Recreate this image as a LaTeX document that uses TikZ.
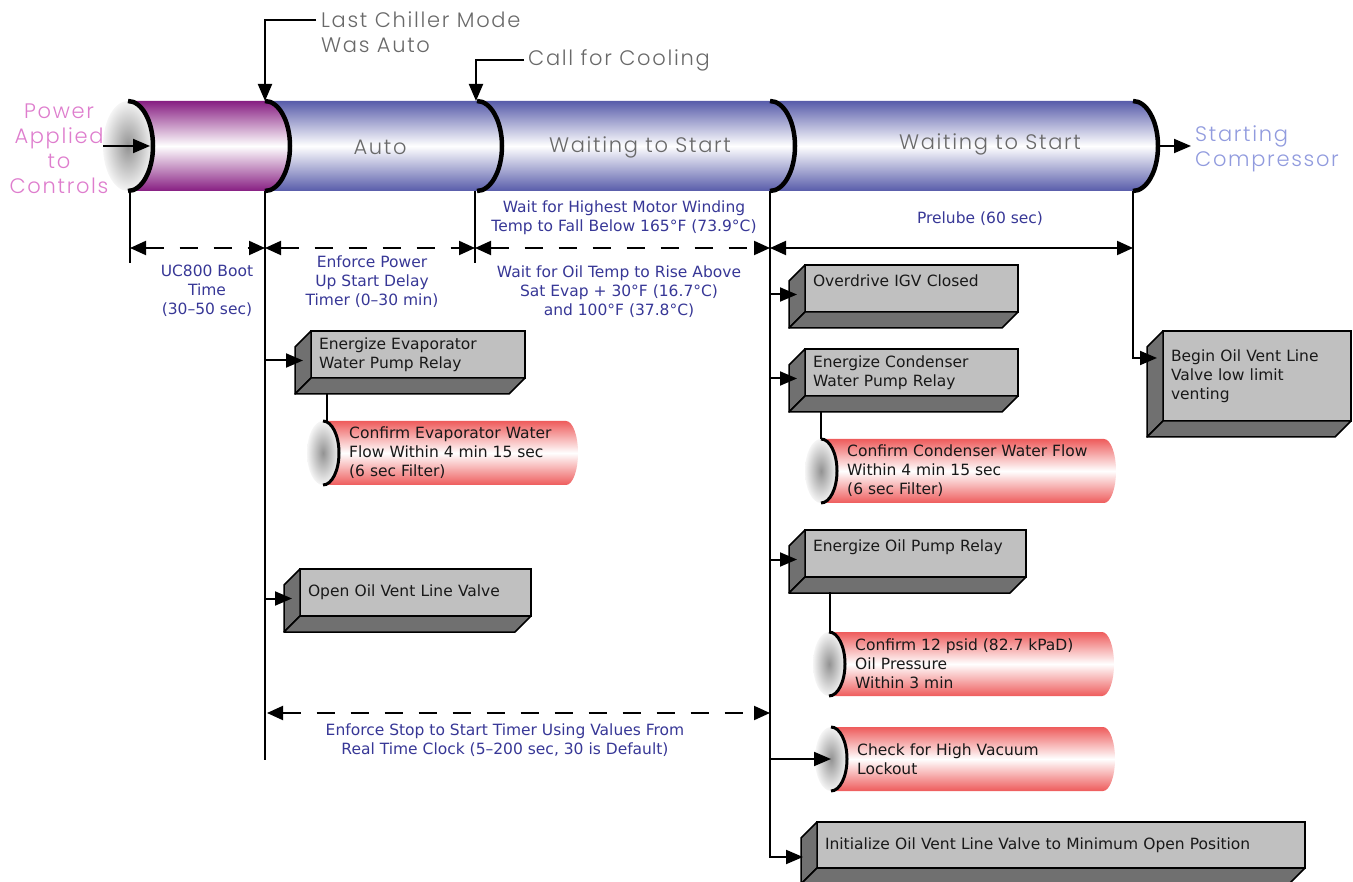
\documentclass[tikz,border=0pt]{standalone}
\usepackage{fontspec}
\setmainfont{DejaVu Sans}
\newfontfamily\thinfont{Poppins Light}[LetterSpace=8]
\usetikzlibrary{arrows.meta,positioning,calc}

\definecolor{plum}{RGB}{135,30,130}
\definecolor{navyfill}{RGB}{88,92,170}
\definecolor{redfill}{RGB}{238,92,92}
\definecolor{frontgray}{RGB}{192,192,192}
\definecolor{sidegray}{RGB}{112,112,112}
\definecolor{labelblue}{RGB}{55,55,150}
\definecolor{thingray}{RGB}{105,105,105}
\definecolor{pinktext}{RGB}{222,125,205}
\definecolor{paleblue}{RGB}{145,155,222}

\newcommand\boxfont{\fontsize{15.5}{19}\selectfont}
\newcommand\phasefont{\thinfont\fontsize{21}{25}\selectfont}

\tikzset{
  arr/.style={line width=2pt, -{Triangle[length=17pt,width=14pt]}},
  dimarr/.style={line width=2pt, {Triangle[length=16pt,width=14pt]}-{Triangle[length=16pt,width=14pt]}},
  dimdash/.style={dimarr, dash pattern=on 18pt off 16pt},
  stepbox/.style={draw, line width=1.5pt, fill=frontgray, anchor=north west, outer sep=0pt,
    inner xsep=8pt, inner ysep=3pt, align=left, font=\boxfont, text=black!90},
  timing/.style={text=labelblue, align=center, inner sep=0pt, font=\boxfont},
  phase/.style={text=thingray, inner sep=0pt, font=\phasefont},
}

% side and bottom faces of an extruded box
\newcommand\boxdepth[1]{%
  \filldraw[fill=sidegray, line width=1.5pt, line join=round]
    (#1.north west) -- ([shift={(-16,16)}]#1.north west)
    -- ([shift={(-16,16)}]#1.south west) -- (#1.south west) -- cycle;
  \filldraw[fill=sidegray, line width=1.5pt, line join=round]
    (#1.south west) -- ([shift={(-16,16)}]#1.south west)
    -- ([shift={(-16,16)}]#1.south east) -- (#1.south east) -- cycle;
  \coordinate (#1-in) at ([shift={(-8,6)}]#1.west);
}

% red cylinder on its side: name, end x, top y, right x, text
\newcommand\redcyl[5]{%
  \shade[top color=redfill, bottom color=redfill, middle color=white]
    (#2,#3) -- (#4,#3) arc[start angle=-90, end angle=90, x radius=12, y radius=32]
    -- (#2,#3+64) -- cycle;
  \shade[inner color=gray!85, outer color=gray!8] (#2,#3+32) ellipse[x radius=16, y radius=32];
  \draw[line width=3pt] (#2,#3) arc[start angle=-90, end angle=90, x radius=16, y radius=32];
  \coordinate (#1-top) at (#2,#3);
  \coordinate (#1-in) at (#2,#3+32);
  \node[anchor=west, align=left, inner sep=0pt, font=\boxfont, text=black!90] (#1) at (#2+26,#3+32) {#5};
}

\begin{document}
\begin{tikzpicture}[x=1pt, y=-1pt]
\useasboundingbox (0,0) rectangle (1353,882);

% main cylinder, right to left so each bulge lies over the next body
\foreach \xa/\xb/\col in {770/1133/navyfill,477/770/navyfill,265/477/navyfill,128/265/plum}{
  \shade[top color=\col, bottom color=\col, middle color=white]
    (\xa,101) -- (\xb,101) arc[start angle=-90, end angle=90, x radius=25, y radius=45]
    -- (\xa,191) -- cycle;
  \draw[line width=4.5pt] (\xb,101) arc[start angle=-90, end angle=90, x radius=25, y radius=45];
}
\shade[inner color=gray!85, outer color=gray!8] (128,146) ellipse[x radius=25, y radius=45];
\draw[line width=4.5pt] (128,101) arc[start angle=-90, end angle=90, x radius=25, y radius=45];

\node[phase] (auto) at (380,147) {Auto};
\node[phase] (waitA) at (640,147) {Waiting to Start};
\node[phase] (waitB) at (990,144) {Waiting to Start};

\node[phase, text=pinktext, align=center] (power) at (59,149) {Power\\Applied\\to\\Controls};
\node[phase, align=left, anchor=west] (lastMode) at (321,32.5) {Last Chiller Mode\\Was Auto};
\node[phase, anchor=west] (callCool) at (528,60) {Call for Cooling};
\node[phase, text=paleblue, align=left, anchor=west] (startComp) at (1195,148.5) {Starting\\Compressor};

\coordinate (capL) at (103,146);
\coordinate (capR) at (150,146);
\coordinate (autoTop) at (265,101);
\coordinate (waitTop) at (476,101);
\coordinate (endArc) at (1158,146);
\coordinate (c0) at (130,191);
\coordinate (c1) at (265,191);
\coordinate (c2) at (475,191);
\coordinate (c3) at (770,191);
\coordinate (c4) at (1133,191);
\coordinate (e0) at (130,263);
\coordinate (e1) at (265,760);
\coordinate (e2) at (475,263);
\coordinate (d0) at (130,248);
\coordinate (d1) at (265,248);
\coordinate (d2) at (475,248);
\coordinate (d3) at (770,248);
\coordinate (d4) at (1133,248);
\coordinate (s0) at (267,713);
\coordinate (s1) at (770,713);

% red cylinders
\redcyl{evapFlow}{323}{421}{566}{Confirm Evaporator Water\\Flow Within 4 min 15 sec\\(6 sec Filter)}
\redcyl{condFlow}{821}{439}{1104}{Confirm Condenser Water Flow\\Within 4 min 15 sec\\(6 sec Filter)}
\redcyl{oilPress}{829}{632}{1102}{Confirm 12 psid (82.7 kPaD)\\Oil Pressure\\Within 3 min}
\redcyl{vacuum}{831}{727}{1103}{Check for High Vacuum\\Lockout}

% grey boxes
\node[stepbox, text width=198pt, minimum height=47pt] (evapPump) at (311,331) {Energize Evaporator\\Water Pump Relay};
\node[stepbox, text width=215pt, minimum height=47pt] (ventOpen) at (300,569) {Open Oil Vent Line Valve};
\node[stepbox, text width=197pt, minimum height=47pt] (igvClosed) at (805,265) {Overdrive IGV Closed\\[-9pt]\strut};
\node[stepbox, text width=197pt, minimum height=47pt] (condPump) at (805,349) {Energize Condenser\\Water Pump Relay};
\node[stepbox, text width=205pt, minimum height=47pt] (oilPump) at (805,530) {Energize Oil Pump Relay\\[-9pt]\strut};
\node[stepbox, text width=472pt, minimum height=46pt] (ventInit) at (817,822) {Initialize Oil Vent Line Valve to Minimum Open Position};
\node[stepbox, text width=172pt, minimum height=90pt] (ventLow) at (1163,331) {Begin Oil Vent Line\\Valve low limit\\venting};
\foreach \b in {evapPump,ventOpen,igvClosed,condPump,oilPump,ventInit,ventLow}{
  \boxdepth{\b}
}

% timing labels
\node[timing] (bootTime) at (207,291) {UC800 Boot\\Time\\(30–50 sec)};
\node[timing] (startDelay) at (372,281.5) {Enforce Power\\Up Start Delay\\Timer (0–30 min)};
\node[timing] (windTemp) at (624,217.5) {Wait for Highest Motor Winding\\Temp to Fall Below 165°F (73.9°C)};
\node[timing] (oilTemp) at (619,292) {Wait for Oil Temp to Rise Above\\Sat Evap + 30°F (16.7°C)\\and 100°F (37.8°C)};
\node[timing] (prelube) at (980,219) {Prelube (60 sec)};
\node[timing] (stopStart) at (505,740.5) {Enforce Stop to Start Timer Using Values From\\Real Time Clock (5–200 sec, 30 is Default)};

% time lines
\draw[line width=2pt] (c0) -- (e0);
\draw[line width=2pt] (c1) -- (e1);
\draw[line width=2pt] (c2) -- (e2);
\draw[dimdash] (d0) -- (d1);
\draw[dimdash] (d1) -- (d2);
\draw[dimdash] (d2) -- (d3);
\draw[dimarr] (d3) -- (d4);
\draw[dimdash] (s0) -- (s1);

% events on the cylinder
\draw[arr] ([xshift=-5pt,yshift=12.5pt]lastMode.west) -| (autoTop);
\draw[arr] ([xshift=-4pt]callCool.west) -| (waitTop);
\draw[arr] (capL) -- (capR);
\draw[arr] (endArc) -- ([xshift=-4pt]endArc -| startComp.west);

% steps
\draw[arr] (c1 |- evapPump-in) -- (evapPump-in);
\draw[arr] (c1 |- ventOpen-in) -- (ventOpen-in);
\draw[line width=1.5pt] ([shift={(16,15)}]evapPump.south west) |- (evapFlow-top);
\draw[arr] (c3) |- ([shift={(-14,12)}]ventInit.west);
\draw[arr] (c3 |- igvClosed-in) -- (igvClosed-in);
\draw[arr] (c3 |- condPump-in) -- (condPump-in);
\draw[arr] (c3 |- oilPump-in) -- (oilPump-in);
\draw[arr] (c3 |- vacuum-in) -- (vacuum-in);
\draw[line width=1.5pt] ([shift={(16,15)}]condPump.south west) |- (condFlow-top);
\draw[line width=1.5pt] ([shift={(25,15)}]oilPump.south west) |- (oilPress-top);
\draw[arr] (c4) |- ([shift={(-6,-18)}]ventLow.west);
\end{tikzpicture}
\end{document}
